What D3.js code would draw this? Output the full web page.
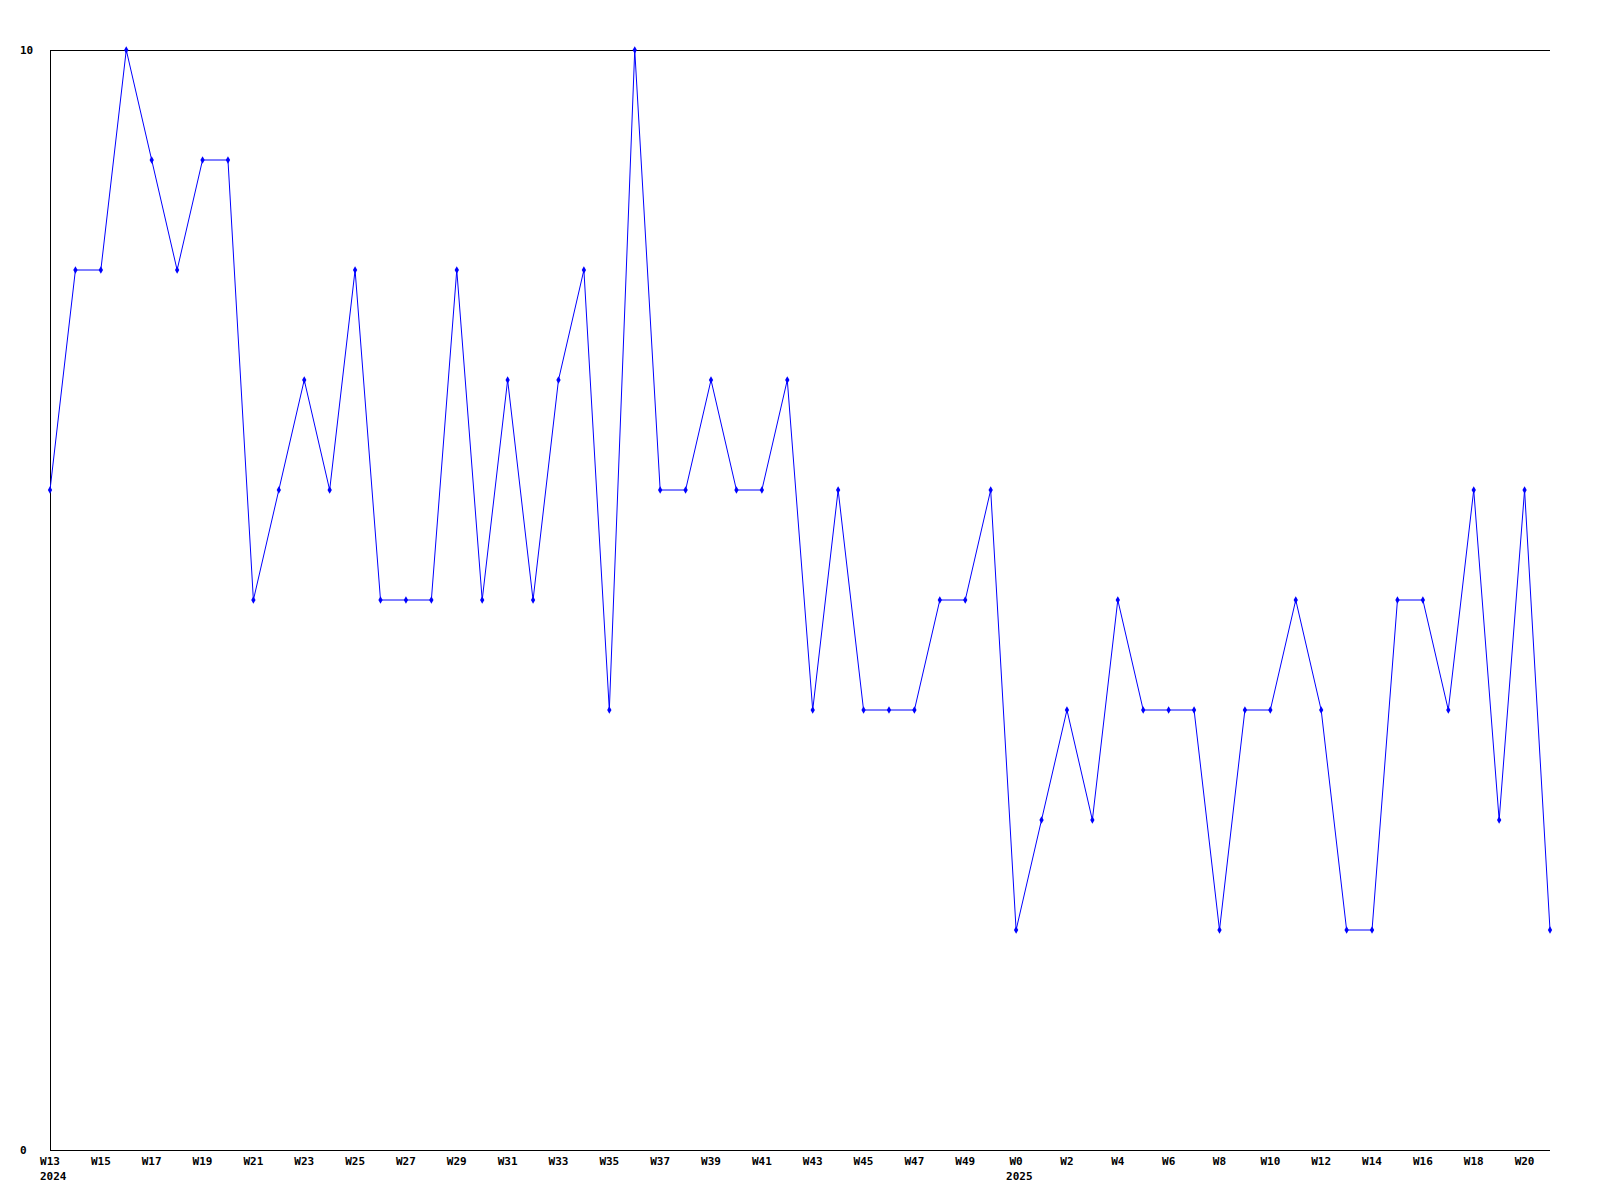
<!DOCTYPE html>
<html><head><meta charset="utf-8">
<script src="https://cdn.jsdelivr.net/npm/d3@7"></script>
<style>body{margin:0;background:#fff}text{font-family:"DejaVu Sans Mono","Liberation Mono",monospace;font-weight:bold;font-size:11px}</style>
</head><body><svg id="c" width="1600" height="1200"></svg>
<script>
const weeks = ["W13","W14","W15","W16","W17","W18","W19","W20","W21","W22","W23","W24","W25","W26","W27","W28","W29","W30","W31","W32","W33","W34","W35","W36","W37","W38","W39","W40","W41","W42","W43","W44","W45","W46","W47","W48","W49","W50",
"W0","W1","W2","W3","W4","W5","W6","W7","W8","W9","W10","W11","W12","W13 ","W14 ","W15 ","W16 ","W17 ","W18 ","W19 ","W20 ","W21 "];
const values = [6,8,8,10,9,8,9,9,5,6,7,6,8,5,5,5,8,5,7,5,7,8,4,10,6,6,7,6,6,7,4,6,4,4,4,5,5,6,
2,3,4,3,5,4,4,4,2,4,4,5,4,2,2,5,5,4,6,3,6,2];
const yearLabels = [{week:"W13",year:"2024"},{week:"W0",year:"2025"}];
const yTicks = [0,10];

const svg = d3.select("#c");
const L=50,R=1550,T=50,B=1150;
const x = d3.scalePoint().domain(weeks).range([L,R]);
const y = d3.scaleLinear().domain([0,10]).range([B,T]);

svg.append("line").attr("x1",L).attr("x2",L).attr("y1",T).attr("y2",B).attr("stroke","#000").attr("stroke-width",1).attr("shape-rendering","crispEdges");
svg.append("line").attr("x1",L).attr("x2",R).attr("y1",B).attr("y2",B).attr("stroke","#000").attr("shape-rendering","crispEdges");
svg.append("line").attr("x1",L).attr("x2",R).attr("y1",T).attr("y2",T).attr("stroke","#000").attr("shape-rendering","crispEdges");

svg.selectAll(".yt").data(yTicks).enter().append("text")
  .attr("x",20).attr("y",d=>y(d)+4).attr("text-anchor","start").text(d=>d);

svg.selectAll(".xt").data(weeks.filter((d,i)=>i%2===0)).enter().append("text")
  .attr("x",d=>x(d)).attr("y",B+15).attr("text-anchor","middle").text(d=>d.trim());
svg.selectAll(".yr").data(yearLabels).enter().append("text")
  .attr("x",d=>x(d.week)-10).attr("y",B+30).attr("text-anchor","start").text(d=>d.year);

const line = d3.line().x((d,i)=>x(weeks[i])).y(d=>y(d));
svg.append("path").datum(values).attr("d",line).attr("fill","none").attr("stroke","#0000ff").attr("stroke-width",1);
svg.selectAll(".pt").data(values).enter().append("path")
  .attr("d",d3.symbol().type(d3.symbolDiamond).size(16))
  .attr("transform",(d,i)=>`translate(${x(weeks[i])},${y(d)})`)
  .attr("fill","#0000ff");
</script></body></html>
